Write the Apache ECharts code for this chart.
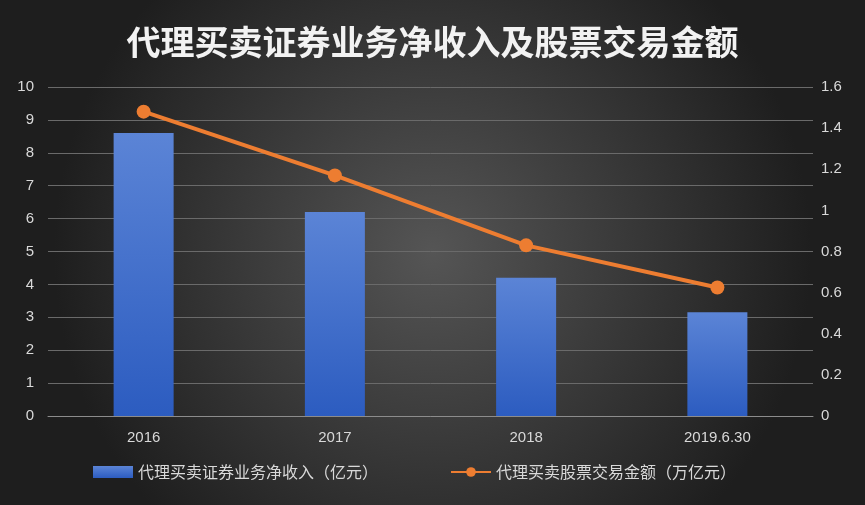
<!DOCTYPE html>
<html><head><meta charset="utf-8">
<script src="https://cdn.jsdelivr.net/npm/echarts@6/dist/echarts.min.js"></script>
<style>html,body{margin:0;padding:0;}#c{width:865px;height:505px;}</style>
</head><body><div id="c"></div>
<script>
const categories = ['2016','2017','2018','2019.6.30'];
const incomeValues = [8.6, 6.2, 4.2, 3.15];
const tradeValues = [1.48, 1.17, 0.83, 0.625];
const seriesNames = ['代理买卖证券业务净收入（亿元）','代理买卖股票交易金额（万亿元）'];
const chart = echarts.init(document.getElementById('c'));
const lab = {color:'#d9d9d9', fontSize:15, fontFamily:'Liberation Sans, Noto Sans CJK SC'};
chart.setOption({
  backgroundColor: {type:'radial', x:0.5, y:0.5, r:0.75, colorStops:[{offset:0,color:'#555555'},{offset:1,color:'#1e1e1e'}]},
  title:{text:'代理买卖证券业务净收入及股票交易金额', left:'center', top:20,
    textStyle:{color:'#f2f2f2', fontSize:34, fontWeight:'bold', fontFamily:'Noto Sans CJK SC'}},
  grid:{left:48, right:52, top:87, bottom:89},
  legend:{bottom:20, left:88, itemGap:72, itemWidth:40, itemHeight:12,
    textStyle:{color:'#d9d9d9', fontSize:16, fontFamily:'Noto Sans CJK SC'},
    data:[{name:seriesNames[0], icon:'rect'}, {name:seriesNames[1]}]},
  xAxis:{type:'category', data:categories,
    axisLine:{lineStyle:{color:'#8c8c8c'}}, axisTick:{show:false},
    axisLabel:Object.assign({margin:14}, lab)},
  yAxis:[
    {type:'value', min:0, max:10, interval:1, axisLabel:Object.assign({margin:14},lab), axisLine:{show:false}, axisTick:{show:false},
     splitLine:{lineStyle:{color:'#6a6a6a'}}},
    {type:'value', min:0, max:1.6, interval:0.2, axisLabel:Object.assign({formatter:v=>String(+v.toFixed(1))},lab),
     axisLine:{show:false}, axisTick:{show:false}, splitLine:{show:false}}
  ],
  series:[
    {name:seriesNames[0], type:'bar', data:incomeValues, barWidth:60,
     itemStyle:{color:{type:'linear',x:0,y:0,x2:0,y2:1,colorStops:[{offset:0,color:'#5b84d6'},{offset:1,color:'#2c5cc0'}]}}},
    {name:seriesNames[1], type:'line', yAxisIndex:1, data:tradeValues, symbol:'circle', symbolSize:14,
     lineStyle:{color:'#ed7d31', width:4}, itemStyle:{color:'#ed7d31'}}
  ]
});
</script></body></html>
